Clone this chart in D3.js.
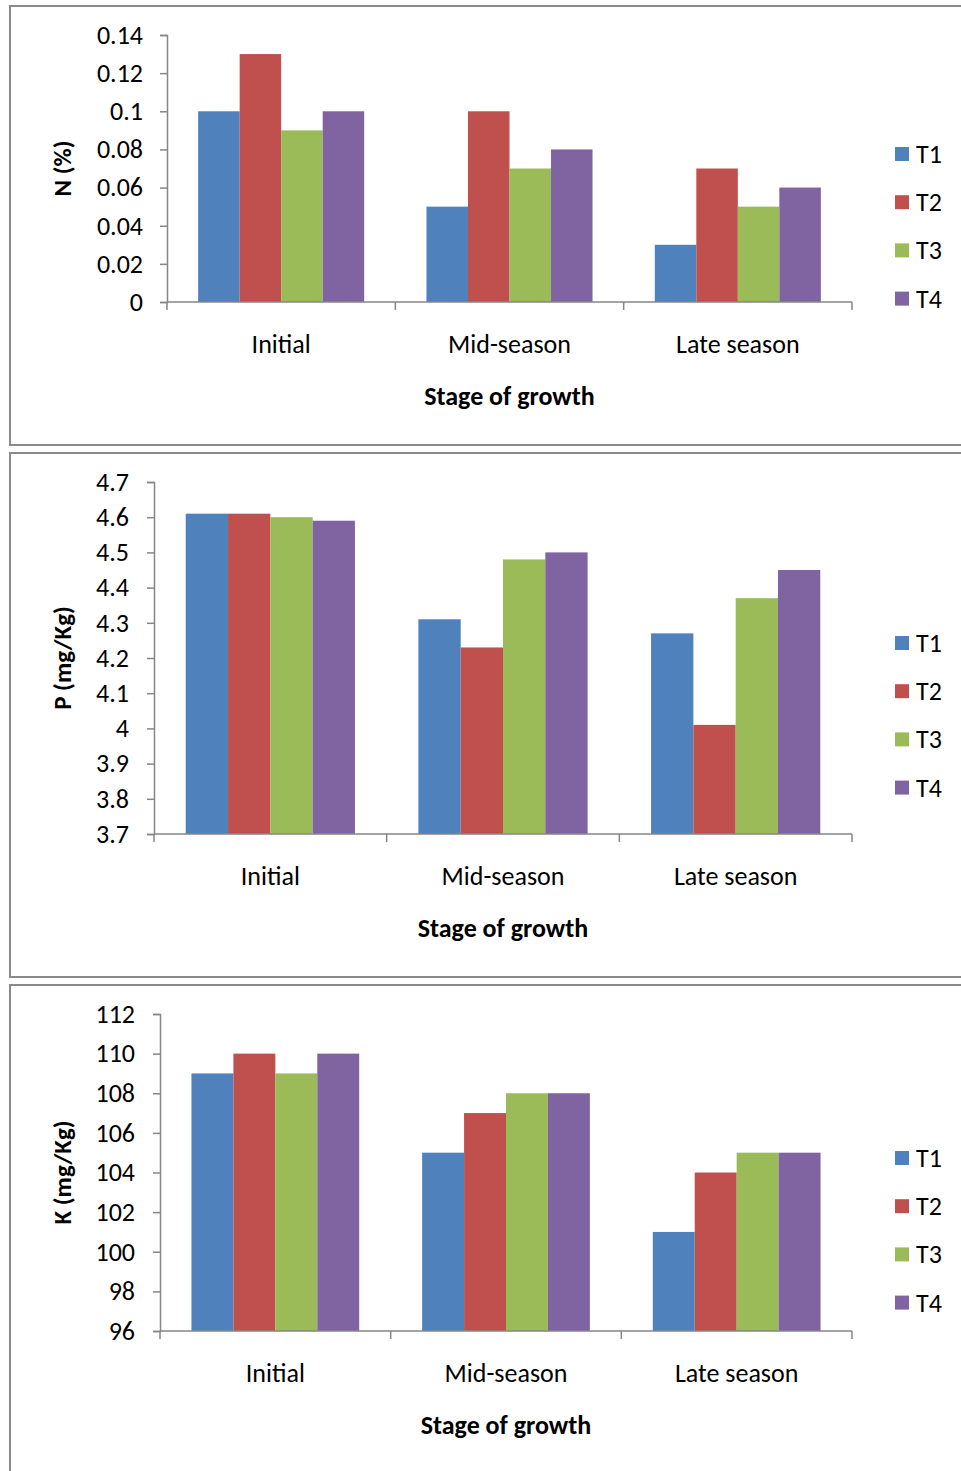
<!DOCTYPE html>
<html>
<head>
<meta charset="utf-8">
<script src="https://cdn.jsdelivr.net/npm/d3@7/dist/d3.min.js"></script>
<style>
  html, body { margin: 0; padding: 0; background: #fff; }
  svg { display: block; }
  text { font-family: Carlito, Lato, "Open Sans", sans-serif; fill: #000; }
</style>
</head>
<body>
<svg id="chart" width="961" height="1471"></svg>
<script>
// Growth stages and treatments
const stages = ["Initial", "Mid-season", "Late season"];
const treatments = ["T1", "T2", "T3", "T4"];
const colors = ["#4F81BD", "#C0504D", "#9BBB59", "#8064A2"];

// Nitrogen (%) by stage, one array per treatment
const nT1 = [0.10, 0.05, 0.03];
const nT2 = [0.13, 0.10, 0.07];
const nT3 = [0.09, 0.07, 0.05];
const nT4 = [0.10, 0.08, 0.06];
const nTicks = [0, 0.02, 0.04, 0.06, 0.08, 0.1, 0.12, 0.14];

// Phosphorus (mg/Kg)
const pT1 = [4.61, 4.31, 4.27];
const pT2 = [4.61, 4.23, 4.01];
const pT3 = [4.60, 4.48, 4.37];
const pT4 = [4.59, 4.50, 4.45];
const pTicks = [3.7, 3.8, 3.9, 4, 4.1, 4.2, 4.3, 4.4, 4.5, 4.6, 4.7];

// Potassium (mg/Kg)
const kT1 = [109, 105, 101];
const kT2 = [110, 107, 104];
const kT3 = [109, 108, 105];
const kT4 = [110, 108, 105];
const kTicks = [96, 98, 100, 102, 104, 106, 108, 110, 112];

const xTitle = "Stage of growth";

const svg = d3.select("#chart");

function panel(cfg) {
  const g = svg.append("g");

  // frame around the chart
  g.append("rect")
    .attr("x", cfg.box[0]).attr("y", cfg.box[1])
    .attr("width", cfg.box[2]).attr("height", cfg.box[3])
    .attr("fill", "none").attr("stroke", "#8a8a8a").attr("stroke-width", 2);

  const x0 = d3.scaleBand().domain(stages).range([cfg.left, cfg.right]).paddingInner(0).paddingOuter(0);
  const x1 = d3.scaleBand().domain(treatments).range([0, x0.bandwidth()]).paddingOuter(0.75).paddingInner(0);
  const y = d3.scaleLinear().domain([cfg.ticks[0], cfg.ticks[cfg.ticks.length - 1]]).range([cfg.bottom, cfg.top]);

  // bars
  const rows = stages.map((s, i) => ({ stage: s, vals: cfg.series.map(a => a[i]) }));
  const grp = g.selectAll(".grp").data(rows).join("g")
    .attr("transform", d => `translate(${x0(d.stage)},0)`);
  grp.selectAll("rect").data(d => d.vals.map((v, j) => ({ t: treatments[j], v, c: colors[j] })))
    .join("rect")
    .attr("x", d => x1(d.t))
    .attr("width", x1.bandwidth())
    .attr("y", d => y(d.v))
    .attr("height", d => cfg.bottom - y(d.v))
    .attr("fill", d => d.c);

  // y axis
  const yAxis = d3.axisLeft(y).tickValues(cfg.ticks).tickSize(7).tickPadding(cfg.tickPad)
    .tickFormat(d => String(+d.toFixed(2)));
  const ya = g.append("g").attr("transform", `translate(${cfg.left},0)`).call(yAxis);
  ya.select(".domain").attr("stroke", "#868686").attr("stroke-width", 1.5);
  ya.selectAll(".tick line").attr("stroke", "#868686").attr("stroke-width", 1.5);
  ya.selectAll(".tick text").attr("font-size", 26).attr("font-family", null);

  // x axis with ticks between categories
  const xa = g.append("g").attr("transform", `translate(0,${cfg.bottom})`);
  xa.append("line").attr("x1", cfg.left).attr("x2", cfg.right)
    .attr("stroke", "#868686").attr("stroke-width", 1.5);
  const edges = stages.map(s => x0(s)).concat([cfg.right]);
  xa.selectAll(".edge").data(edges).join("line")
    .attr("x1", d => d).attr("x2", d => d).attr("y1", 0).attr("y2", 8)
    .attr("stroke", "#868686").attr("stroke-width", 1.5);
  xa.selectAll(".cat").data(stages).join("text")
    .attr("x", d => x0(d) + x0.bandwidth() / 2)
    .attr("y", 51)
    .attr("text-anchor", "middle")
    .attr("font-size", 26)
    .text(d => d);

  // axis titles
  g.append("text")
    .attr("x", (cfg.left + cfg.right) / 2)
    .attr("y", cfg.bottom + 103)
    .attr("text-anchor", "middle")
    .attr("font-size", 26).attr("font-weight", "bold")
    .text(xTitle);
  g.append("text")
    .attr("transform", `translate(71,${(cfg.top + cfg.bottom) / 2}) rotate(-90)`)
    .attr("text-anchor", "middle")
    .attr("font-size", 25).attr("font-weight", "bold")
    .text(cfg.yLabel);

  // legend
  const lg = g.selectAll(".leg").data(treatments).join("g")
    .attr("transform", (d, i) => `translate(895,${cfg.legendTop + i * 48.2})`);
  lg.append("rect").attr("x", 0).attr("y", -7).attr("width", 14).attr("height", 14)
    .attr("fill", (d, i) => colors[i]);
  lg.append("text").attr("x", 21).attr("y", 9).attr("font-size", 26).text(d => d);
}

panel({
  box: [10, 6, 970, 439],
  left: 167, right: 852, top: 35, bottom: 302, tickPad: 17,
  ticks: nTicks, series: [nT1, nT2, nT3, nT4],
  yLabel: "N (%)", legendTop: 154
});
panel({
  box: [10, 453, 970, 524],
  left: 154, right: 852, top: 482, bottom: 834, tickPad: 18,
  ticks: pTicks, series: [pT1, pT2, pT3, pT4],
  yLabel: "P (mg/Kg)", legendTop: 643
});
panel({
  box: [10, 985, 970, 520],
  left: 160, right: 852, top: 1014, bottom: 1331, tickPad: 18,
  ticks: kTicks, series: [kT1, kT2, kT3, kT4],
  yLabel: "K (mg/Kg)", legendTop: 1158
});
</script>
</body>
</html>
